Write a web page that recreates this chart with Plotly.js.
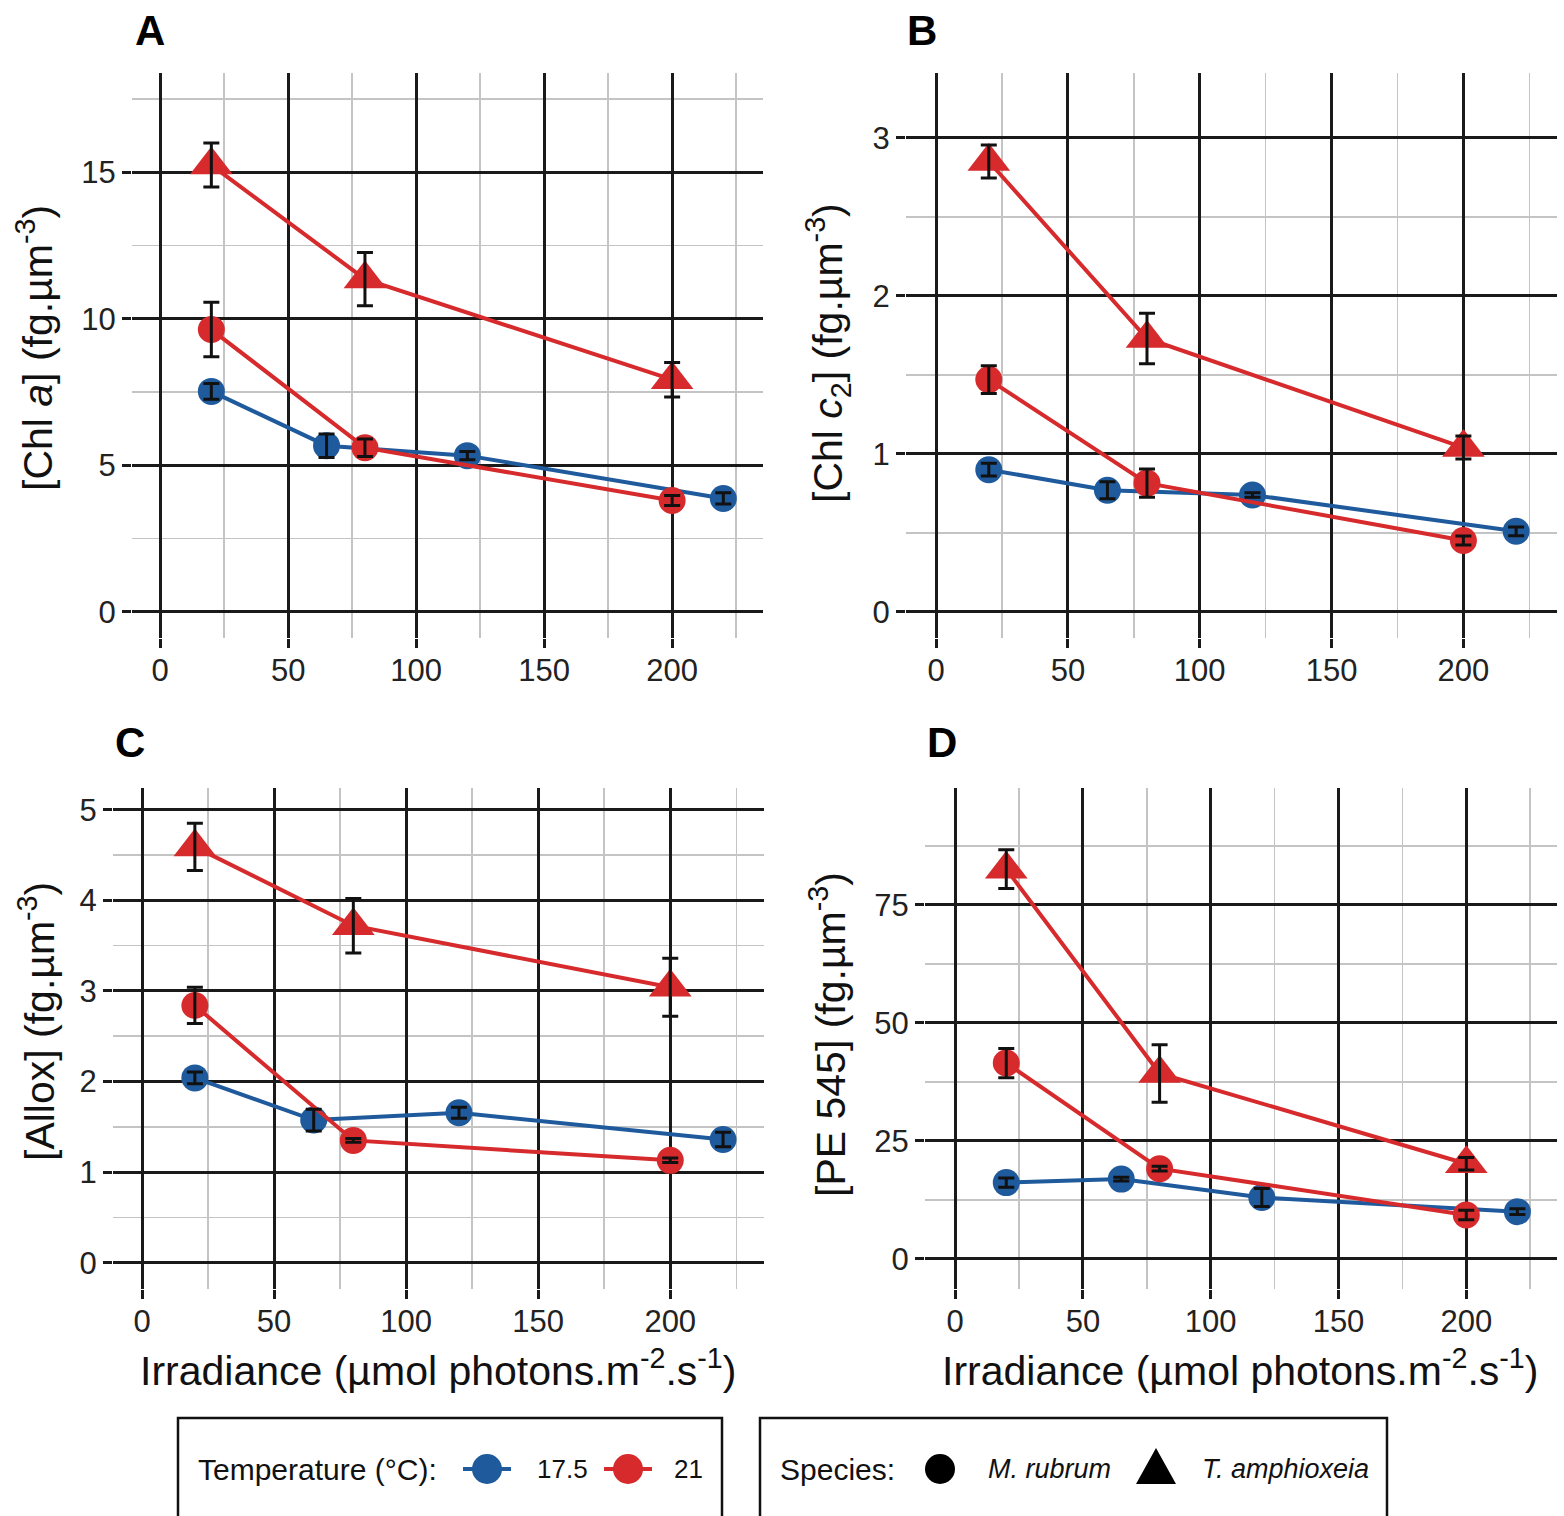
<!DOCTYPE html>
<html>
<head>
<meta charset="utf-8">
<script src="https://cdn.plot.ly/plotly-3.0.1.min.js"></script>
<style>html,body{margin:0;padding:0;background:#fff;}#chart{width:1564px;height:1516px;}</style>
</head>
<body>
<div id="chart"></div>
<script>
// ---------- data ----------
const irr175 = [20, 65, 120, 220];
const irr21 = [20, 80, 200];

const chlA_mr175 = [7.52, 5.67, 5.33, 3.87];
const chlA_mr175_sd = [0.27, 0.40, 0.14, 0.19];
const chlA_mr21 = [9.63, 5.6, 3.80];
const chlA_mr21_sd = [0.93, 0.30, 0.17];
const chlA_ta21 = [15.24, 11.35, 7.92];
const chlA_ta21_sd = [0.75, 0.91, 0.59];

const chlC_mr175 = [0.90, 0.77, 0.74, 0.51];
const chlC_mr175_sd = [0.04, 0.054, 0.014, 0.028];
const chlC_mr21 = [1.47, 0.815, 0.452];
const chlC_mr21_sd = [0.088, 0.09, 0.028];
const chlC_ta21 = [2.85, 1.73, 1.04];
const chlC_ta21_sd = [0.105, 0.16, 0.073];

const allox_mr175 = [2.04, 1.575, 1.655, 1.36];
const allox_mr175_sd = [0.065, 0.12, 0.06, 0.08];
const allox_mr21 = [2.84, 1.35, 1.13];
const allox_mr21_sd = [0.2, 0.02, 0.025];
const allox_ta21 = [4.59, 3.72, 3.04];
const allox_ta21_sd = [0.26, 0.3, 0.32];

const pe_mr175 = [16.15, 16.9, 13.0, 10.0];
const pe_mr175_sd = [1.0, 0.4, 1.9, 0.6];
const pe_mr21 = [41.5, 19.1, 9.3];
const pe_mr21_sd = [3.1, 0.5, 1.0];
const pe_ta21 = [82.6, 39.3, 20.15];
const pe_ta21_sd = [4.1, 6.1, 1.3];

const panelLetters = ["A", "B", "C", "D"];
const yTitles = [
  "[Chl <i>a</i>] (fg.µm<sup>-3</sup>)",
  "[Chl <i>c</i><sub>2</sub>] (fg.µm<sup>-3</sup>)",
  "[Allox] (fg.µm<sup>-3</sup>)",
  "[PE 545] (fg.µm<sup>-3</sup>)"
];
const xTitle = "Irradiance (µmol photons.m<sup>-2</sup>.s<sup>-1</sup>)";
const tempTitle = "Temperature (°C):";
const tempLevels = ["17.5", "21"];
const speciesTitle = "Species:";
const speciesLevels = ["M. rubrum", "T. amphioxeia"];

// ---------- style ----------
const BLUE = "#1f5a9c";
const RED = "#d62a2c";
const FONT = "Liberation Sans, Arial, sans-serif";
const W = 1564, H = 1516;
const px = v => v / W;
const py = v => 1 - v / H;

const panels = [
  {xa: "x", ya: "y", d: [chlA_mr175, chlA_mr175_sd, chlA_mr21, chlA_mr21_sd, chlA_ta21, chlA_ta21_sd]},
  {xa: "x2", ya: "y2", d: [chlC_mr175, chlC_mr175_sd, chlC_mr21, chlC_mr21_sd, chlC_ta21, chlC_ta21_sd]},
  {xa: "x3", ya: "y3", d: [allox_mr175, allox_mr175_sd, allox_mr21, allox_mr21_sd, allox_ta21, allox_ta21_sd]},
  {xa: "x4", ya: "y4", d: [pe_mr175, pe_mr175_sd, pe_mr21, pe_mr21_sd, pe_ta21, pe_ta21_sd]}
];

const traces = [];
panels.forEach(p => {
  const [b, be, r, re, t, te] = p.d;
  const series = [
    {x: irr175, y: b, e: be, c: BLUE, s: "circle", sz: 27},
    {x: irr21, y: r, e: re, c: RED, s: "circle", sz: 27},
    {x: irr21, y: t, e: te, c: RED, s: "triangle-up", sz: 37}
  ];
  series.forEach(s => {
    traces.push({
      type: "scatter", mode: "lines+markers", x: s.x, y: s.y,
      xaxis: p.xa, yaxis: p.ya, showlegend: false, hoverinfo: "skip",
      line: {color: s.c, width: 4},
      marker: {color: s.c, symbol: s.s, size: s.sz, line: {width: 0}}
    });
  });
  series.forEach(s => {
    traces.push({
      type: "scatter", mode: "markers", x: s.x, y: s.y,
      xaxis: p.xa, yaxis: p.ya, showlegend: false, hoverinfo: "skip",
      marker: {size: 1, opacity: 0},
      error_y: {type: "data", array: s.e, visible: true, color: "#111", thickness: 3, width: 8}
    });
  });
});

function xax(domain, range, anchor) {
  return {
    domain: domain, range: range, anchor: anchor,
    tickmode: "linear", tick0: 0, dtick: 50,
    showgrid: true, gridcolor: "#1a1a1a", gridwidth: 3,
    zeroline: false, showline: false,
    ticks: "outside", ticklen: 9, tickwidth: 3, tickcolor: "#1a1a1a",
    ticklabelstandoff: -4,
    tickfont: {family: FONT, size: 31, color: "#222"},
    minor: {tick0: 0, dtick: 25, showgrid: true, gridcolor: "#c4c4c4", gridwidth: 1.5, ticks: ""},
    fixedrange: true
  };
}
function yax(domain, range, anchor, dtick) {
  return {
    domain: domain, range: range, anchor: anchor,
    tickmode: "linear", tick0: 0, dtick: dtick,
    showgrid: true, gridcolor: "#1a1a1a", gridwidth: 3,
    zeroline: false, showline: false,
    ticks: "outside", ticklen: 9, tickwidth: 3, tickcolor: "#1a1a1a",
    tickfont: {family: FONT, size: 31, color: "#222"},
    minor: {tick0: 0, dtick: dtick / 2, showgrid: true, gridcolor: "#c4c4c4", gridwidth: 1.5, ticks: ""},
    fixedrange: true
  };
}

const topY = [py(638), py(73)];
const botY = [py(1289), py(788)];

const layout = {
  width: W, height: H,
  margin: {l: 0, r: 0, t: 0, b: 0},
  paper_bgcolor: "#fff", plot_bgcolor: "#fff",
  showlegend: false,
  font: {family: FONT, color: "#111"},
  xaxis: xax([px(132), px(763)], [-11, 235.5], "y"),
  yaxis: yax(topY, [-0.89, 18.38], "x", 5),
  xaxis2: xax([px(906), px(1557)], [-11.4, 235.5], "y2"),
  yaxis2: yax(topY, [-0.165, 3.41], "x2", 1),
  xaxis3: xax([px(113), px(764)], [-11, 235.5], "y3"),
  yaxis3: yax(botY, [-0.29, 5.24], "x3", 1),
  xaxis4: xax([px(925), px(1557)], [-11.8, 235.5], "y4"),
  yaxis4: yax(botY, [-6.4, 99.8], "x4", 25),
  annotations: [],
  shapes: []
};

// panel letters
const letterPos = [[150, 30], [922, 30], [130, 743], [942, 743]];
panelLetters.forEach((L, i) => {
  layout.annotations.push({
    xref: "paper", yref: "paper", x: px(letterPos[i][0]), y: py(letterPos[i][1]),
    xanchor: "center", yanchor: "middle", showarrow: false,
    text: "<b>" + L + "</b>", font: {family: FONT, size: 42, color: "#000"}
  });
});
// y titles
const yTitlePos = [[35, 348], [828, 353], [37, 1022], [828, 1035]];
yTitles.forEach((t, i) => {
  layout.annotations.push({
    xref: "paper", yref: "paper", x: px(yTitlePos[i][0]), y: py(yTitlePos[i][1]),
    xanchor: "center", yanchor: "middle", showarrow: false, textangle: -90,
    text: t, font: {family: FONT, size: 41, color: "#111"}
  });
});
// x titles
[[438, 1368], [1240, 1368]].forEach(p => {
  layout.annotations.push({
    xref: "paper", yref: "paper", x: px(p[0]), y: py(p[1]),
    xanchor: "center", yanchor: "middle", showarrow: false,
    text: xTitle, font: {family: FONT, size: 41, color: "#111"}
  });
});

// ---------- legend (drawn as keys) ----------
const LY = 1469;
layout.shapes.push({type: "rect", xref: "paper", yref: "paper", x0: px(178), x1: px(722), y0: py(1560), y1: py(1418), line: {color: "#111", width: 2.5}, fillcolor: "rgba(0,0,0,0)"});
layout.shapes.push({type: "rect", xref: "paper", yref: "paper", x0: px(760), x1: px(1387), y0: py(1560), y1: py(1418), line: {color: "#111", width: 2.5}, fillcolor: "rgba(0,0,0,0)"});

function legText(t, x, italic, size) {
  layout.annotations.push({
    xref: "paper", yref: "paper", x: px(x), y: py(LY), xanchor: "left", yanchor: "middle",
    showarrow: false, text: italic ? "<i>" + t + "</i>" : t, font: {family: FONT, size: size, color: "#111"}
  });
}
function legCircle(cx, color, r, withLine) {
  if (withLine) {
    layout.shapes.push({type: "line", xref: "paper", yref: "paper", x0: px(cx - 24), x1: px(cx + 24), y0: py(LY), y1: py(LY), line: {color: color, width: 4}});
  }
  layout.shapes.push({type: "circle", xref: "paper", yref: "paper", x0: px(cx - r), x1: px(cx + r), y0: py(LY + r), y1: py(LY - r), fillcolor: color, line: {width: 0}});
}
legText(tempTitle, 196, false, 30);
legCircle(487, BLUE, 15, true);
legText(tempLevels[0], 535, false, 26);
legCircle(628, RED, 15, true);
legText(tempLevels[1], 672, false, 26);

legText(speciesTitle, 778, false, 30);
legCircle(940, "#000", 15, false);
legText(speciesLevels[0], 986, true, 27);
layout.shapes.push({type: "path", xref: "paper", yref: "paper",
  path: "M " + px(1136) + " " + py(1484) + " L " + px(1176) + " " + py(1484) + " L " + px(1156) + " " + py(1448) + " Z",
  fillcolor: "#000", line: {width: 0}});
legText(speciesLevels[1], 1200, true, 27);

Plotly.newPlot("chart", traces, layout, {staticPlot: true, displayModeBar: false});
</script>
</body>
</html>
